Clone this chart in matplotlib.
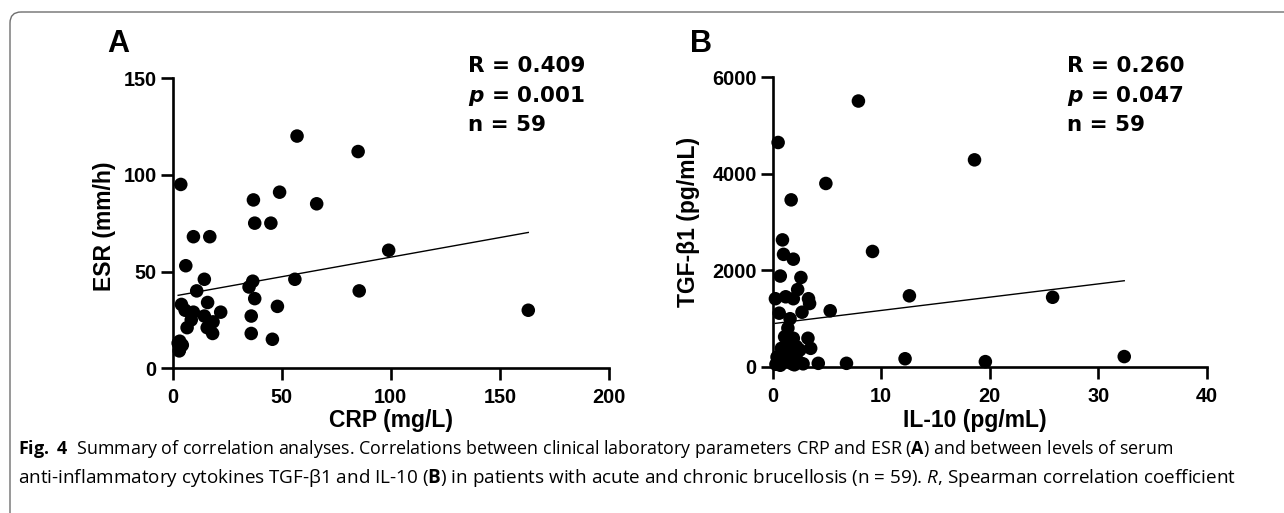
import matplotlib
matplotlib.use("Agg")
import matplotlib.pyplot as plt
import numpy as np
from matplotlib.patches import FancyBboxPatch

# ---------------- data ----------------
crp = [57, 85, 3.7, 49, 37, 66, 37.6, 45, 9.5, 17, 99, 6, 14.5, 56, 36.7, 35, 11,
       85.5, 37.6, 4, 16, 48, 5.7, 9.5, 22, 163, 14.5, 36, 8.5, 18.5, 6.6, 15.8,
       18.3, 36, 45.7, 3.2, 4.4, 3.2, 3, 2.5]
esr = [120, 112, 95, 91, 87, 85, 75, 75, 68, 68, 61, 53, 46, 46, 45, 42, 40,
       40, 36, 33, 34, 32, 30, 29, 29, 30, 27, 27, 25, 24, 21, 21,
       18, 18, 15, 14, 12, 10, 9, 13]

il10 = [7.9, 0.5, 18.6, 4.9, 1.7, 0.9, 9.2, 1.0, 1.9, 0.7, 2.6, 2.3, 0.25, 1.2,
        1.9, 3.3, 3.4, 12.6, 25.8, 5.3, 0.6, 2.7, 1.6, 1.4, 1.1, 1.9, 3.25, 1.3,
        2.2, 3.5, 2.5, 12.2, 32.4, 19.6, 6.8, 4.2, 0.8, 1.0,
        0.3, 0.6, 0.9, 1.2, 1.5, 1.8, 2.1, 2.4, 2.8, 1.0, 0.4, 1.6, 2.0, 0.7]
tgf = [5510, 4650, 4290, 3800, 3460, 2630, 2390, 2330, 2230, 1880, 1850, 1600,
       1410, 1450, 1410, 1410, 1310, 1470, 1440, 1160, 1110, 1130, 995, 800,
       620, 590, 590, 450, 415, 381, 346, 165, 210, 105, 70, 70, 381, 242,
       50, 150, 80, 250, 120, 60, 200, 100, 60, 300, 200, 310, 40, 30]

# regression lines: [intercept, slope]
fit_a = [37.2, 0.2024]
fit_b = [892.0, 27.5]

stats_a = ["R = 0.409", r"$\mathsf{p}$ = 0.001", "n = 59"]
stats_b = ["R = 0.260", r"$\mathsf{p}$ = 0.047", "n = 59"]

xticks_a = [0, 50, 100, 150, 200]
yticks_a = [0, 50, 100, 150]
xticks_b = [0, 10, 20, 30, 40]
yticks_b = [0, 2000, 4000, 6000]

caption1 = (r"$\mathbf{Fig.\ 4}$  Summary of correlation analyses. Correlations between "
            r"clinical laboratory parameters CRP and ESR ($\mathbf{A}$) and between levels of serum")
caption2 = (r"anti-inflammatory cytokines TGF-β1 and IL-10 ($\mathbf{B}$) in patients with "
            r"acute and chronic brucellosis (n = 59). $\mathit{R}$, Spearman correlation coefficient")

# ---------------- style ----------------
plt.rcParams['mathtext.fontset'] = 'custom'
plt.rcParams['mathtext.rm'] = 'Open Sans'
plt.rcParams['mathtext.bf'] = 'Open Sans:bold'
plt.rcParams['mathtext.it'] = 'Open Sans:italic'
plt.rcParams['mathtext.sf'] = 'DejaVu Sans:bold:italic'

W, H = 1284, 513
fig = plt.figure(figsize=(W / 100, H / 100), dpi=100)

# background axes in pixel coordinates for frame and free text
bg = fig.add_axes([0, 0, 1, 1])
bg.set_xlim(0, W)
bg.set_ylim(H, 0)
bg.axis('off')
frame = FancyBboxPatch((10, 12), 1500, 700, boxstyle="round,pad=0,rounding_size=11",
                       linewidth=1.0, edgecolor='#6e6e6e', facecolor='none')
bg.add_patch(frame)

def px_axes(x0, y0, x1, y1):
    return fig.add_axes([x0 / W, 1 - y1 / H, (x1 - x0) / W, (y1 - y0) / H])

axA = px_axes(172.7, 78.0, 609.0, 368.3)
axB = px_axes(772.7, 77.4, 1206.7, 366.7)

def style(ax, xlim, ylim, xt, yt):
    ax.set_facecolor('none')
    ax.set_xlim(*xlim)
    ax.set_ylim(*ylim)
    for s in ['top', 'right']:
        ax.spines[s].set_visible(False)
    for s in ['left', 'bottom']:
        ax.spines[s].set_linewidth(1.9)
    ax.set_xticks(xt)
    ax.set_yticks(yt)
    ax.tick_params(axis='both', which='major', length=8.5, width=1.9, direction='out')
    ax.tick_params(axis='x', pad=6)
    ax.tick_params(axis='y', pad=3)
    for lab in ax.get_xticklabels() + ax.get_yticklabels():
        lab.set_fontfamily('Liberation Sans')
        lab.set_fontweight('bold')
        lab.set_fontsize(14.3)
    for sp in ax.spines.values():
        sp.set_clip_on(False)

style(axA, (0, 200), (0, 150), xticks_a, yticks_a)
style(axB, (0, 40), (0, 6000), xticks_b, yticks_b)

axA.scatter(crp, esr, s=95, c='black', edgecolors='none', clip_on=False, zorder=3)
axB.scatter(il10, tgf, s=95, c='black', edgecolors='none', clip_on=False, zorder=3)

xa = np.array([min(crp), max(crp)])
axA.plot(xa, fit_a[0] + fit_a[1] * xa, color='black', lw=1.0, zorder=2)
xb = np.array([min(il10), max(il10)])
axB.plot(xb, fit_b[0] + fit_b[1] * xb, color='black', lw=1.0, zorder=2)

labfont = dict(family='Liberation Sans', weight='bold', size=16.5)
bg.text(391, 420, "CRP (mg/L)", ha='center', va='center', **labfont)
bg.text(104, 226, "ESR (mm/h)", ha='center', va='center', rotation=90, **labfont)
bg.text(975, 420, "IL-10 (pg/mL)", ha='center', va='center', **labfont)
bg.text(689, 222, "TGF-β1 (pg/mL)", ha='center', va='center', rotation=90, **labfont)

panfont = dict(family='Liberation Sans', weight='bold', size=22)
bg.text(107, 52, "A", ha='left', va='baseline', **panfont)
bg.text(690, 52, "B", ha='left', va='baseline', **panfont)

statfont = dict(family='DejaVu Sans', weight='bold', size=15.5)
for i, (sa, sb) in enumerate(zip(stats_a, stats_b)):
    y = 72 + 29.5 * i
    bg.text(468, y, sa, ha='left', va='baseline', **statfont)
    bg.text(1067, y, sb, ha='left', va='baseline', **statfont)

bg.text(18, 454, caption1, ha='left', va='baseline', family='Open Sans', size=12.9)
bg.text(18, 483, caption2, ha='left', va='baseline', family='Open Sans', size=13.6)

fig.savefig("out.png", dpi=100)
